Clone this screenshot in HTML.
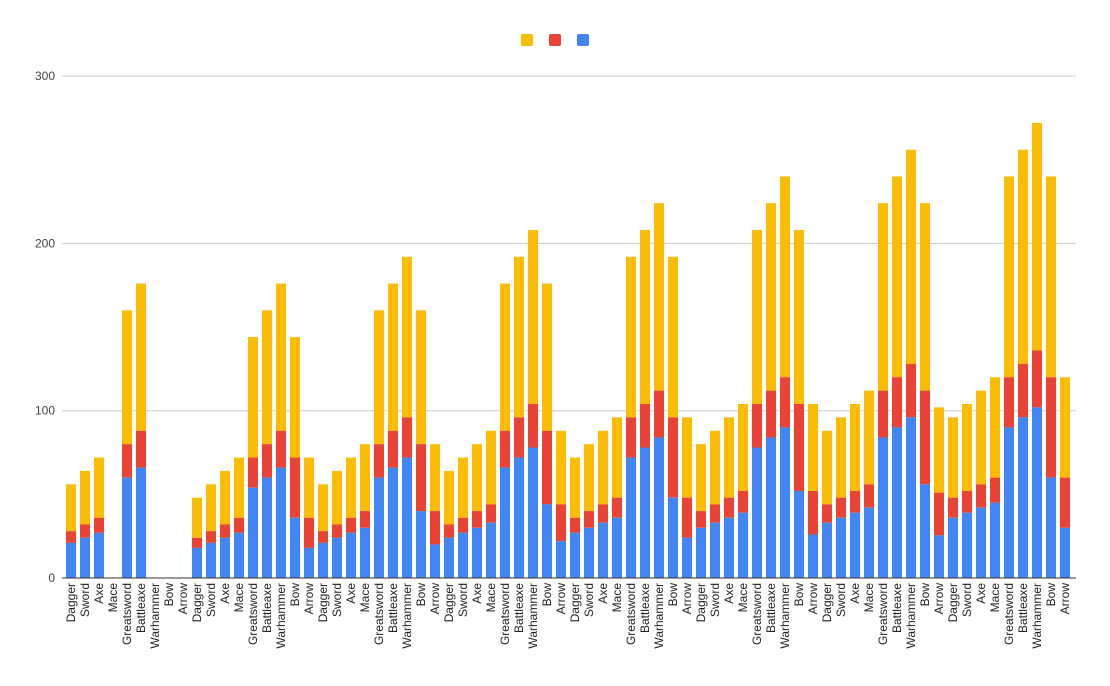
<!DOCTYPE html>
<html><head><meta charset="utf-8"><style>
html,body{margin:0;padding:0;background:#fff;}
svg{display:block;font-family:"Liberation Sans",Arial,sans-serif;}
</style></head><body>
<svg id="c" width="1110" height="686" xmlns="http://www.w3.org/2000/svg"></svg>
<script>
const svg=document.getElementById('c');
const names=["Dagger","Sword","Axe","Mace","Greatsword","Battleaxe","Warhammer","Bow","Arrow"];
const totals=[
[56,64,72,0,160,176,0,0,0],
[48,56,64,72,144,160,176,144,72],
[56,64,72,80,160,176,192,160,80],
[64,72,80,88,176,192,208,176,88],
[72,80,88,96,192,208,224,192,96],
[80,88,96,104,208,224,240,208,104],
[88,96,104,112,224,240,256,224,102],
[96,104,112,120,240,256,272,240,120]];
const y0=578, k=167.3/100;
let h='';
[100,200,300].forEach(v=>{const y=y0-v*k;h+=`<line x1="62" x2="1076" y1="${y}" y2="${y}" stroke="#ccc" stroke-width="1"/>`;});
[0,100,200,300].forEach(v=>{const y=y0-v*k;h+=`<text x="55" y="${y+4}" text-anchor="end" font-size="12" fill="#444">${v}</text>`;});
let i=0;
totals.forEach(g=>g.forEach((t,j)=>{
  const cx=71+14*i, x=cx-5;
  let blue,red;
  if(j>=7){blue=t/4;red=t/4;}else{blue=t*3/8;red=t/8;}
  const yb=y0-blue*k, yr=y0-(blue+red)*k, yt=y0-t*k;
  if(t>0){
    h+=`<rect x="${x}" y="${yt}" width="10" height="${yr-yt}" fill="#fbbc04"/>`;
    h+=`<rect x="${x}" y="${yr}" width="10" height="${yb-yr}" fill="#ea4335"/>`;
    h+=`<rect x="${x}" y="${yb}" width="10" height="${y0-yb}" fill="#4285f4"/>`;
  }
  h+=`<text transform="translate(${cx+4},583) rotate(-90)" text-anchor="end" font-size="12" fill="#222">${names[j]}</text>`;
  i++;
}));
h+=`<line x1="62" x2="1076" y1="${y0}" y2="${y0}" stroke="#333" stroke-width="1"/>`;
h+=`<rect x="521" y="34" width="12" height="12" rx="2" fill="#fbbc04"/>`;
h+=`<rect x="549" y="34" width="12" height="12" rx="2" fill="#ea4335"/>`;
h+=`<rect x="577" y="34" width="12" height="12" rx="2" fill="#4285f4"/>`;
svg.innerHTML=h;
</script>
</body></html>
